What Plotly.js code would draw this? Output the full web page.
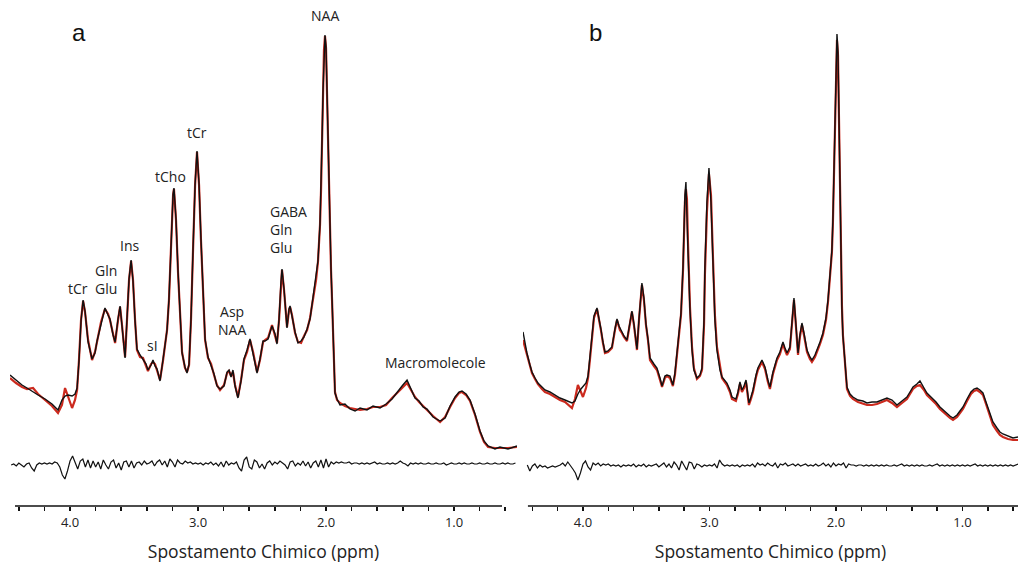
<!DOCTYPE html>
<html>
<head>
<meta charset="utf-8">
<script src="https://cdn.plot.ly/plotly-3.0.1.min.js"></script>
<style>html,body{margin:0;padding:0;background:#fff;}#chart{width:1018px;height:568px;}</style>
</head>
<body>
<div id="chart"></div>
<script>
// ---------- Panel a: spectrum (ppm, intensity in arbitrary units) ----------
const ppmA = [4.469,4.422,4.375,4.336,4.289,4.250,4.195,4.141,4.094,4.063,
4.039,4.016,3.984,3.961,3.945,3.930,3.914,3.898,3.883,3.859,
3.828,3.805,3.789,3.758,3.727,3.703,3.688,3.664,3.648,3.625,
3.609,3.594,3.570,3.555,3.539,3.523,3.508,3.492,3.477,3.453,
3.430,3.406,3.391,3.367,3.352,3.336,3.320,3.297,3.273,3.258,
3.242,3.227,3.211,3.195,3.188,3.172,3.156,3.141,3.125,3.102,
3.086,3.070,3.055,3.039,3.023,3.008,2.992,2.977,2.961,2.945,
2.922,2.898,2.875,2.852,2.828,2.797,2.773,2.758,2.742,2.727,
2.711,2.688,2.664,2.641,2.617,2.594,2.570,2.539,2.516,2.492,
2.477,2.453,2.422,2.398,2.383,2.367,2.352,2.344,2.328,2.313,
2.305,2.289,2.281,2.266,2.242,2.219,2.195,2.172,2.148,2.125,
2.102,2.078,2.063,2.047,2.039,2.031,2.023,2.016,2.008,2.000,
1.992,1.984,1.977,1.969,1.961,1.953,1.945,1.938,1.930,1.914,
1.891,1.852,1.813,1.773,1.734,1.680,1.633,1.578,1.531,1.484,
1.445,1.406,1.367,1.336,1.305,1.273,1.242,1.211,1.164,1.109,
1.070,1.031,0.992,0.961,0.938,0.906,0.875,0.836,0.797,0.766,
0.734,0.680,0.641,0.578,0.508];
const fitA = [129,124,120,118,119,113,107,101,94,102,
119,110,99,107,117,147,187,206,195,167,
147,155,165,185,198,193,187,173,164,187,
200,182,150,187,227,246,227,187,157,150,
149,141,136,143,145,143,137,127,147,160,
177,207,267,312,318,287,234,187,155,139,
135,142,187,257,322,355,322,267,207,167,
149,143,132,122,117,122,134,136,131,135,
122,110,127,147,155,167,155,135,147,165,
167,169,182,172,164,187,224,237,217,185,
180,197,200,192,174,165,164,171,177,189,
207,227,245,282,317,367,417,457,471,459,
412,357,312,272,237,207,167,135,115,107,
104,101,99,98,97,98,100,100,102,109,
114,120,124,117,110,105,101,97,91,85,
90,100,109,114,115,112,106,92,75,65,
60,59,59,59,60];
const dataA = [132,127,122,119,115,112,108,103,97,107,
111,112,111,113,119,146,186,207,196,165,
148,154,166,184,199,192,188,172,165,188,
201,181,149,188,228,247,226,186,158,152,
148,143,137,142,147,141,138,126,148,161,
177,208,268,313,319,288,235,188,154,140,
134,143,188,258,323,356,323,268,208,168,
150,142,133,121,118,121,135,137,130,137,
121,109,126,148,157,168,154,134,148,166,
166,168,181,173,163,188,225,238,218,184,
179,198,201,191,175,164,166,170,178,188,
208,228,246,283,318,368,418,458,472,460,
413,358,313,273,238,208,168,136,114,108,
102,103,98,96,99,97,101,99,103,108,
115,121,127,118,109,106,100,98,90,86,
89,101,110,115,116,113,107,93,76,66,
61,58,60,58,61];
// residual (data - fit), sampled every 0.02 ppm from 4.46 ppm
const resA = [0,1,-1,2,0,-2,1,2,-3,-6,
0,2,1,2,1,2,1,3,2,-2,
-10,-14,-6,4,9,2,-4,4,6,-2,
5,-3,4,-2,3,-4,5,0,-4,3,
5,-3,2,-5,3,4,-2,4,-3,2,
3,0,4,1,2,4,-1,3,5,0,
4,-2,6,3,-2,5,2,1,4,2,
3,1,2,1,2,0,2,1,3,0,
2,-1,3,-2,4,0,2,1,3,-3,
-6,5,8,-2,-4,5,3,-3,1,-4,
2,4,0,3,1,4,2,0,-4,3,
4,-1,2,0,4,-1,3,-3,2,4,
-2,5,-3,6,-2,3,1,3,2,3,
2,2,3,1,2,2,1,2,1,2,
1,2,3,1,2,1,1,2,1,2,
1,2,4,2,1,-1,2,1,2,1,
2,1,1,2,1,1,2,1,1,2,
0,1,2,1,1,2,1,2,1,1,
2,1,1,2,1,1,2,1,1,2,
1,1,2,1,2,1,1,2];

// ---------- Panel b ----------
const ppmB = [4.474,4.458,4.443,4.419,4.403,4.379,4.356,4.324,4.300,4.261,
4.221,4.182,4.142,4.111,4.087,4.063,4.040,4.016,4.000,3.976,
3.960,3.945,3.929,3.913,3.889,3.874,3.858,3.842,3.826,3.802,
3.771,3.747,3.731,3.715,3.708,3.692,3.676,3.652,3.628,3.613,
3.597,3.573,3.557,3.542,3.534,3.518,3.502,3.486,3.470,3.439,
3.415,3.391,3.375,3.352,3.336,3.312,3.289,3.273,3.257,3.241,
3.225,3.209,3.202,3.194,3.186,3.178,3.170,3.154,3.138,3.123,
3.099,3.075,3.059,3.043,3.036,3.020,3.004,2.988,2.972,2.957,
2.941,2.917,2.901,2.862,2.838,2.822,2.791,2.775,2.759,2.743,
2.727,2.711,2.696,2.688,2.672,2.656,2.632,2.617,2.585,2.561,
2.538,2.522,2.498,2.466,2.443,2.419,2.403,2.387,2.364,2.348,
2.332,2.316,2.300,2.285,2.269,2.253,2.229,2.206,2.190,2.166,
2.150,2.126,2.103,2.079,2.063,2.047,2.032,2.024,2.016,2.008,
2.000,1.992,1.984,1.976,1.968,1.960,1.953,1.945,1.929,1.913,
1.889,1.866,1.826,1.787,1.755,1.715,1.676,1.636,1.597,1.557,
1.518,1.478,1.439,1.415,1.391,1.360,1.336,1.304,1.281,1.241,
1.209,1.178,1.130,1.099,1.075,1.043,1.020,0.996,0.964,0.933,
0.909,0.885,0.862,0.838,0.814,0.783,0.759,0.727,0.704,0.680,
0.640,0.601,0.561];
const fitB = [167,159,152,141,134,128,123,118,115,113,
110,107,105,102,99,108,122,115,110,119,
129,147,172,189,198,189,177,164,154,155,
159,177,187,180,177,174,170,166,182,195,
182,157,187,217,222,207,182,167,147,141,
137,127,120,129,131,129,121,132,150,172,
192,237,277,305,318,308,265,200,160,139,
128,131,137,182,232,295,333,312,248,192,
160,139,129,122,115,108,106,113,123,115,
119,125,110,102,108,115,130,137,145,138,
125,118,133,147,153,163,157,152,158,185,
207,180,152,170,182,172,155,148,145,150,
155,163,172,187,205,230,255,285,325,380,
432,467,452,387,292,242,202,172,140,118,
111,108,105,103,102,102,103,105,107,104,
100,104,108,113,118,121,122,117,112,107,
103,98,92,89,87,90,94,98,106,113,
116,117,115,112,103,90,82,76,72,70,
68,67,67];
const dataB = [175,163,154,142,135,129,124,120,117,115,
112,109,107,105,104,106,113,118,120,124,
131,149,174,191,199,190,178,165,155,156,
160,178,188,181,179,176,171,167,183,196,
183,158,188,219,224,209,183,168,149,143,
139,129,121,131,132,131,122,134,152,174,
194,240,282,312,325,300,257,197,157,137,
129,132,139,187,240,305,339,305,240,187,
157,137,130,124,117,110,108,115,125,117,
121,127,112,104,110,117,132,139,147,140,
127,120,135,149,155,165,159,154,160,187,
209,182,154,172,184,174,157,150,147,152,
157,165,174,189,207,232,257,288,330,388,
442,473,455,380,285,237,198,171,142,120,
113,110,107,106,104,105,105,107,109,107,
102,106,110,115,120,123,126,119,114,109,
105,100,94,91,89,92,96,100,108,115,
118,119,117,114,105,93,85,79,75,73,
71,69,70];
// residual (data - fit), sampled every 0.02 ppm from 4.44 ppm
const resB = [2,-4,1,3,-1,2,0,1,-1,0,
1,0,1,2,4,1,5,2,-2,-6,
-13,-6,3,6,0,-3,4,2,4,1,
3,2,3,1,2,1,2,0,2,1,
2,1,3,0,2,1,3,0,2,1,
2,3,0,2,4,0,3,-1,5,2,
-3,6,2,-3,5,4,-2,3,2,0,
2,1,2,1,3,-1,7,3,1,2,
1,2,1,2,0,2,1,2,1,3,
0,4,2,3,1,4,2,1,4,-1,
3,2,4,1,2,3,1,3,1,2,
3,1,2,1,3,1,2,4,1,3,
0,4,1,3,2,4,-1,3,2,2,
1,2,2,1,2,1,2,1,2,1,
2,1,2,1,1,2,1,2,3,1,
2,1,2,1,2,1,2,1,1,2,
1,2,3,1,2,1,2,1,2,1,
2,1,2,1,2,1,2,3,1,2,
1,2,1,2,1,2,1,2,1,2,
1,2,1,2,3,1,2];

const tickVals = [4.4,4.2,4.0,3.8,3.6,3.4,3.2,3.0,2.8,2.6,2.4,2.2,2.0,1.8,1.6,1.4,1.2,1.0,0.8,0.6];
const tickText = ['','','4.0','','','','','3.0','','','','','2.0','','','','','1.0','',''];
const resOffsetA = 42, resOffsetB = 40; // vertical display offset of residual traces
const resStep = 0.02, resStartA = 4.46, resStartB = 4.44;

const resXA = resA.map((_, i) => +(resStartA - i * resStep).toFixed(3));
const resXB = resB.map((_, i) => +(resStartB - i * resStep).toFixed(3));

const RED = '#cc2a1e', BLK = '#111111';
const FONT = 'Open Sans, DejaVu Sans, sans-serif';

const traces = [
  {x: ppmA, y: fitA, xaxis: 'x', yaxis: 'y', mode: 'lines', line: {color: RED, width: 2.2}},
  {x: ppmA, y: dataA, xaxis: 'x', yaxis: 'y', mode: 'lines', line: {color: BLK, width: 1.4}},
  {x: resXA, y: resA.map(v => v + resOffsetA), xaxis: 'x', yaxis: 'y', mode: 'lines', line: {color: BLK, width: 1.2}},
  {x: ppmB, y: fitB, xaxis: 'x2', yaxis: 'y', mode: 'lines', line: {color: RED, width: 2.2}},
  {x: ppmB, y: dataB, xaxis: 'x2', yaxis: 'y', mode: 'lines', line: {color: BLK, width: 1.4}},
  {x: resXB, y: resB.map(v => v + resOffsetB), xaxis: 'x2', yaxis: 'y', mode: 'lines', line: {color: BLK, width: 1.2}}
];

const axisCommon = {
  tickvals: tickVals, ticktext: tickText, ticks: 'outside', ticklen: 4, tickwidth: 1.5,
  tickcolor: '#111', showline: false, showgrid: false, zeroline: false,
  tickfont: {family: FONT, size: 13, color: '#222'}, anchor: 'y', fixedrange: true,
  title: {text: 'Spostamento Chimico (ppm)', font: {family: FONT, size: 17.5, color: '#222'}, standoff: 16}
};

function ann(xref, x, y, text, opts) {
  return Object.assign({xref: xref, yref: 'y', x: x, y: y, text: text, showarrow: false,
    font: {family: FONT, size: 14, color: '#222'}, xanchor: 'center', yanchor: 'middle', align: 'center'}, opts || {});
}

const layout = {
  width: 1018, height: 568,
  margin: {l: 0, r: 0, t: 0, b: 62},
  paper_bgcolor: '#fff', plot_bgcolor: '#fff',
  showlegend: false,
  xaxis: Object.assign({}, axisCommon, {domain: [10/1018, 517/1018], range: [4.469, 0.508]}),
  xaxis2: Object.assign({}, axisCommon, {domain: [523/1018, 1], range: [4.474, 0.561]}),
  yaxis: {range: [1, 507], visible: false, fixedrange: true},
  shapes: [
    {type: 'line', xref: 'x', yref: 'paper', x0: 4.43, x1: 0.625, y0: 0, y1: 0, line: {color: '#111', width: 1.5}},
    {type: 'line', xref: 'x2', yref: 'paper', x0: 4.435, x1: 0.561, y0: 0, y1: 0, line: {color: '#111', width: 1.5}}
  ],
  annotations: [
    ann('x', 3.93, 475, 'a', {font: {family: 'Liberation Sans, Arial, sans-serif', size: 24, color: '#111'}}),
    ann('x2', 3.897, 475, 'b', {font: {family: 'Liberation Sans, Arial, sans-serif', size: 24, color: '#111'}}),
    ann('x', 2.008, 492, 'NAA'),
    ann('x', 3.008, 375, 'tCr'),
    ann('x', 3.219, 331, 'tCho'),
    ann('x', 3.539, 262, 'Ins'),
    ann('x', 3.82, 228, 'Gln<br>Glu', {xanchor: 'left', align: 'left'}),
    ann('x', 3.938, 219, 'tCr'),
    ann('x', 3.359, 162, 'sI'),
    ann('x', 2.734, 187, 'Asp<br>NAA'),
    ann('x', 2.453, 278, 'GABA<br>Gln<br>Glu', {xanchor: 'left', align: 'left'}),
    ann('x', 1.148, 145, 'Macromolecole')
  ],
  hovermode: false
};

Plotly.newPlot('chart', traces, layout, {staticPlot: true, displayModeBar: false});
</script>
</body>
</html>
